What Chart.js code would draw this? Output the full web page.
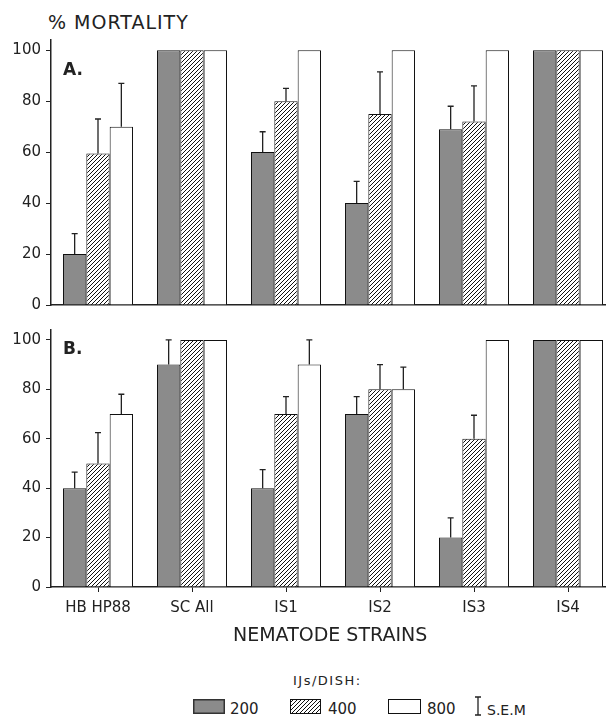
<!DOCTYPE html>
<html>
<head>
<meta charset="utf-8">
<script src="https://cdn.jsdelivr.net/npm/chart.js@4.4.0/dist/chart.umd.min.js"></script>
<style>
    html, body { margin: 0; padding: 0; background: #fff; overflow: hidden; }
    body { width: 606px; height: 717px; position: relative; font-family: 'DejaVu Sans', sans-serif; color: #222; }
    .abs { position: absolute; white-space: nowrap; line-height: 1; }
    canvas { position: absolute; left: 0; }
    #ytitle { left: 48px; top: 13px; font-size: 19px; letter-spacing: 1px; }
    .panel { left: 63px; font-size: 17px; font-weight: bold; }
    #xtitle { left: 233px; top: 625px; font-size: 19px; }
    #legTitle { left: 293px; top: 674px; font-size: 13px; letter-spacing: 1.5px; }
    .legText { top: 702px; font-size: 15px; }
</style>
</head>
<body>
<div class="abs" id="ytitle">% MORTALITY</div>
<canvas id="chartA" width="620" height="320" style="top:0"></canvas>
<canvas id="chartB" width="620" height="320" style="top:310px"></canvas>
<div class="abs panel" style="top:61px">A.</div>
<div class="abs panel" style="top:340px">B.</div>
<div class="abs" id="xtitle">NEMATODE STRAINS</div>
<div class="abs" id="legTitle">IJs/DISH:</div>
<canvas id="sw200" width="32" height="15" style="left:193px;top:699px"></canvas>
<div class="abs legText" style="left:230px">200</div>
<canvas id="sw400" width="31" height="15" style="left:290px;top:699px"></canvas>
<div class="abs legText" style="left:328px">400</div>
<canvas id="sw800" width="33" height="15" style="left:388px;top:699px"></canvas>
<div class="abs legText" style="left:427px">800</div>
<canvas id="swErr" width="8" height="20" style="left:474px;top:696px"></canvas>
<div class="abs" style="left:487px;top:703px;font-size:14px">S.E.M</div>

<script>
const strains = ['HB HP88', 'SC All', 'IS1', 'IS2', 'IS3', 'IS4'];
const doses = ['200', '400', '800'];

// panel A
const a200 = [20, 100, 60, 40, 69, 100];
const a200Err = [8, 0, 8, 8.5, 9, 0];
const a400 = [59.5, 100, 80, 75, 72, 100];
const a400Err = [13.5, 0, 5, 16.5, 14, 0];
const a800 = [70, 100, 100, 100, 100, 100];
const a800Err = [17, 0, 0, 0, 0, 0];

// panel B
const b200 = [40, 90, 40, 70, 20, 100];
const b200Err = [6.5, 10, 7.5, 7, 8, 0];
const b400 = [50, 100, 70, 80, 60, 100];
const b400Err = [12.5, 0, 7, 10, 9.5, 0];
const b800 = [70, 100, 90, 80, 100, 100];
const b800Err = [8, 0, 10, 9, 0, 0];

const yTicks = [0, 20, 40, 60, 80, 100];

const GRAY = '#8b8b8b';
const INK = '#222';

function hatchPattern(ctx) {
    const c = document.createElement('canvas');
    c.width = 4;
    c.height = 4;
    const p = c.getContext('2d');
    p.fillStyle = '#fff';
    p.fillRect(0, 0, 4, 4);
    p.strokeStyle = '#111';
    p.lineWidth = 1;
    p.beginPath();
    p.moveTo(-1, 5); p.lineTo(5, -1);
    p.moveTo(-1, 1); p.lineTo(1, -1);
    p.moveTo(3, 5); p.lineTo(5, 3);
    p.stroke();
    return ctx.createPattern(c, 'repeat');
}

const errorBars = {
    id: 'errorBars',
    afterDatasetsDraw(chart) {
        const ctx = chart.ctx;
        const y = chart.scales.y;
        ctx.save();
        ctx.strokeStyle = INK;
        ctx.lineWidth = 1.3;
        chart.data.datasets.forEach((ds, i) => {
            chart.getDatasetMeta(i).data.forEach((bar, j) => {
                const e = ds.errors[j];
                if (!e) return;
                const top = y.getPixelForValue(ds.data[j] + e);
                ctx.beginPath();
                ctx.moveTo(bar.x, bar.y);
                ctx.lineTo(bar.x, top);
                ctx.moveTo(bar.x - 3, top);
                ctx.lineTo(bar.x + 3, top);
                ctx.stroke();
            });
        });
        ctx.restore();
    }
};

function makeDatasets(ctx, v200, e200, v400, e400, v800, e800) {
    const common = { borderColor: '#111', borderWidth: 1, barPercentage: 1, categoryPercentage: 0.745 };
    return [
        Object.assign({ label: doses[0], data: v200, errors: e200, backgroundColor: GRAY }, common),
        Object.assign({ label: doses[1], data: v400, errors: e400, backgroundColor: hatchPattern(ctx) }, common),
        Object.assign({ label: doses[2], data: v800, errors: e800, backgroundColor: '#fff' }, common)
    ];
}

function drawPanel(id, values, showLabels) {
    const canvas = document.getElementById(id);
    const ctx = canvas.getContext('2d');
    return new Chart(canvas, {
        type: 'bar',
        data: {
            labels: strains,
            datasets: makeDatasets(ctx, ...values)
        },
        options: {
            responsive: false,
            animation: false,
            layout: { padding: { top: showLabels ? 20 : 40, right: 5, left: 0, bottom: 0 } },
            plugins: {
                legend: { display: false },
                tooltip: { enabled: false }
            },
            scales: {
                x: {
                    ticks: {
                        display: showLabels,
                        color: INK,
                        padding: 7,
                        font: { family: 'DejaVu Sans', size: 15 }
                    },
                    grid: {
                        display: showLabels,
                        drawOnChartArea: false,
                        offset: false,
                        tickLength: 5,
                        color: INK
                    },
                    border: { color: INK, width: 1.5 },
                    afterFit: s => { s.height = showLabels ? 43 : 15; }
                },
                y: {
                    min: 0,
                    max: 104,
                    afterBuildTicks: s => { s.ticks = yTicks.map(v => ({ value: v })); },
                    ticks: {
                        color: INK,
                        padding: 5,
                        font: { family: 'DejaVu Sans', size: 15 }
                    },
                    grid: {
                        drawOnChartArea: false,
                        tickLength: 5,
                        color: INK
                    },
                    border: { color: INK, width: 1.5 },
                    afterFit: s => { s.width = 51; }
                }
            }
        },
        plugins: [errorBars]
    });
}

function drawSwatches() {
    let c = document.getElementById('sw200').getContext('2d');
    c.fillStyle = GRAY; c.fillRect(0, 0, 32, 15);
    c.strokeStyle = '#333'; c.lineWidth = 1.5; c.strokeRect(0.75, 0.75, 30.5, 13.5);

    c = document.getElementById('sw400').getContext('2d');
    c.fillStyle = hatchPattern(c); c.fillRect(0, 0, 31, 15);
    c.strokeStyle = '#111'; c.lineWidth = 1; c.strokeRect(0.5, 0.5, 30, 14);

    c = document.getElementById('sw800').getContext('2d');
    c.fillStyle = '#fff'; c.fillRect(0, 0, 33, 15);
    c.strokeStyle = '#111'; c.lineWidth = 1; c.strokeRect(0.5, 0.5, 32, 14);

    c = document.getElementById('swErr').getContext('2d');
    c.strokeStyle = INK; c.lineWidth = 1.3;
    c.beginPath();
    c.moveTo(4, 1); c.lineTo(4, 19);
    c.moveTo(1, 1); c.lineTo(7, 1);
    c.moveTo(1, 19); c.lineTo(7, 19);
    c.stroke();
}

drawPanel('chartA', [a200, a200Err, a400, a400Err, a800, a800Err], false);
drawPanel('chartB', [b200, b200Err, b400, b400Err, b800, b800Err], true);
drawSwatches();
</script>
</body>
</html>
